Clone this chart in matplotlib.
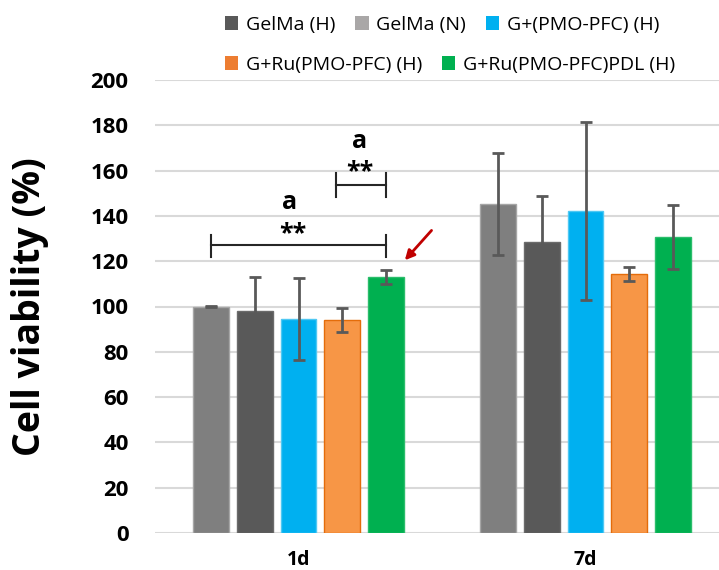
import numpy as np
import matplotlib.pyplot as plt
from matplotlib.patches import Patch

plt.rcParams['font.family'] = ['Open Sans', 'DejaVu Sans']

days = ["1d", "7d"]
# bar order as drawn in each group
series = ["GelMa (N)", "GelMa (H)", "G+(PMO-PFC) (H)", "G+Ru(PMO-PFC) (H)", "G+Ru(PMO-PFC)PDL (H)"]
means = [
    [100.0, 145.3],
    [98.2, 128.5],
    [94.5, 142.2],
    [94.0, 114.3],
    [113.0, 130.7],
]
errs = [
    [0.4, 22.5],
    [14.8, 20.3],
    [18.1, 39.3],
    [5.3, 3.1],
    [3.0, 14.1],
]
colors = ["#7f7f7f", "#595959", "#00b0f0", "#f79646", "#00b050"]
edges = ["#a6a6a6", "#6b6b6b", "#4fc8f3", "#e46c0a", "#2bbd6b"]

# legend order / swatch colors as shown in the picture
leg_row1 = ["GelMa (H)", "GelMa (N)", "G+(PMO-PFC) (H)"]
leg_row1_col = ["#595959", "#a9a7a7", "#00b0f0"]
leg_row2 = ["G+Ru(PMO-PFC) (H)", "G+Ru(PMO-PFC)PDL (H)"]
leg_row2_col = ["#ed7d31", "#00b050"]

fig = plt.figure(figsize=(7.19, 5.70), dpi=100)
ax = fig.add_axes([155 / 719, 37 / 570, 574 / 719, 453 / 570])

x = np.arange(len(days))
pitch = 0.153
width = 0.125
for i in range(len(series)):
    off = (i - 2) * pitch
    ax.bar(x + off, means[i], width, color=colors[i], edgecolor=edges[i],
           linewidth=1, zorder=2)
    ax.errorbar(x + off, means[i], yerr=errs[i], fmt="none", ecolor="#595959",
                elinewidth=2, capsize=4, capthick=2, zorder=3)

ax.set_xlim(-0.5, 1.5)
ax.set_ylim(0, 200)
ax.set_yticks(np.arange(0, 201, 20))
ax.set_xticks(x)
ax.set_xticklabels(days, fontsize=14, fontweight="bold")
ax.tick_params(axis="both", length=0)
ax.tick_params(axis="y", labelsize=16, pad=19)
ax.tick_params(axis="x", pad=12)
for lab in ax.get_yticklabels():
    lab.set_fontweight("bold")
ax.grid(axis="y", color="#d9d9d9", linewidth=1.5, zorder=0)
for s in ax.spines.values():
    s.set_visible(False)
ax.set_ylabel("Cell viability (%)", fontsize=27, fontweight="bold", labelpad=30)

# significance brackets
b1 = (-2 * pitch, 2 * pitch)
ax.plot([b1[0], b1[1]], [127.2, 127.2], color="#262626", lw=1.5, zorder=4)
for xx in b1:
    ax.plot([xx, xx], [122.0, 131.6], color="#262626", lw=1.5, zorder=4)
ax.text(np.mean(b1) - 0.02, 132.0, "**", ha="center", va="center", fontsize=18, fontweight="bold")
ax.text(np.mean(b1) - 0.03, 146, "a", ha="center", va="center", fontsize=18, fontweight="bold")

b2 = (0.13, 2 * pitch)
ax.plot([b2[0], b2[1]], [153.6, 153.6], color="#262626", lw=1.5, zorder=4)
for xx in b2:
    ax.plot([xx, xx], [148.3, 158.9], color="#262626", lw=1.5, zorder=4)
ax.text(np.mean(b2) - 0.005, 159.5, "**", ha="center", va="center", fontsize=18, fontweight="bold")
ax.text(np.mean(b2) - 0.005, 173, "a", ha="center", va="center", fontsize=18, fontweight="bold")

ax.annotate("", xy=(0.364, 119.5), xytext=(0.47, 134.5),
            arrowprops=dict(arrowstyle="-|>", color="#c00000", lw=2, mutation_scale=14))

h1 = [Patch(facecolor=c) for c in leg_row1_col]
h2 = [Patch(facecolor=c) for c in leg_row2_col]
kw = dict(frameon=False, fontsize=14, handlelength=0.7, handleheight=0.7,
          handletextpad=0.4, columnspacing=1.0, borderaxespad=0)
fig.legend(h1, leg_row1, ncol=3, loc="center left", bbox_to_anchor=(217 / 719, 1 - 25 / 570), **kw)
fig.legend(h2, leg_row2, ncol=2, loc="center left", bbox_to_anchor=(217 / 719, 1 - 65 / 570), **kw)

fig.savefig("out.png", dpi=100)
